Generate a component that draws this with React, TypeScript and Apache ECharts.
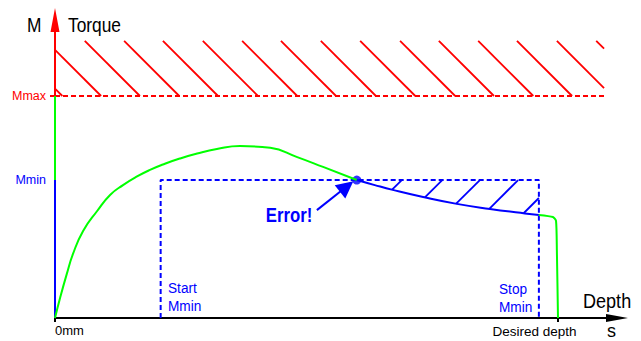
import React, { useEffect, useRef } from 'react';
import * as echarts from 'echarts';

const FONT = "'Liberation Sans', Arial, Helvetica, sans-serif";

const RED = '#ff0000';
const GREEN = '#00ff00';
const BLUE = '#0000ff';
const INK = '#000000';

// Frame of the diagram (canvas size and plot margins)
const WIDTH = 641;
const HEIGHT = 341;
const GRID = { left: 55, right: 24, top: 20, bottom: 23 };

// Axis ranges (depth and torque in relative units)
const DEPTH_MAX = 100;
const TORQUE_MAX = 100;

// Torque limits and depth marks
const M_MAX = 74.5;
const M_MIN = 46.3;
const START_MMIN = 18.8;
const STOP_MMIN = 86.1;
const DESIRED_DEPTH = 89.5;

// Forbidden zone above Mmax
const LIMIT_HATCH_TOP = 93.0;
const LIMIT_HATCH_END = 97.7;
const limitHatchX = [-8.5, -1.6, 5.3, 12.3, 19.2, 26.3, 33.3, 40.2, 47.3, 54.3, 61.4, 68.3, 75.3, 82.2, 89.3, 96.3];

// Torque curve: run-in, fault section below Mmin, and final stop
const torqueRise: [number, number][] = [
  [0, 0], [0.9, 6.7], [2.1, 14.8], [3.2, 21.5], [5.0, 29.2], [7.5, 35.9], [9.8, 41.3],
  [12.1, 44.6], [14.6, 47.5], [16.9, 49.7], [19.2, 51.5], [22.2, 53.5], [25.3, 55.2],
  [28.8, 56.7], [32.9, 57.7], [38.3, 57.1], [43.1, 54.0], [47.7, 50.7], [53.7, 46.3],
];
const torqueFault: [number, number][] = [
  [53.7, 46.3], [56.9, 44.6], [60.1, 43.0], [65.5, 40.6], [71.5, 38.3], [77.4, 36.6],
  [83.6, 35.1], [86.1, 34.6],
];
const torqueTail: [number, number][] = [
  [86.1, 34.6], [88.6, 33.9], [89.15, 32.6], [89.3, 22.8], [89.5, 0],
];
// Hatch of the shortfall area between Mmin and the fault section
const faultHatchX = [61.7, 68.9, 75.6, 82.4, 89.3];

const errorPoint: [number, number] = [53.7, 46.3];
const errorArrow: [number, number][] = [[46.6, 36.2], [51.9, 44.1]];

const xTickValues = [0, DESIRED_DEPTH];
const xTickLabels = ['0mm', 'Desired depth'];
const yTickValues = [M_MIN, M_MAX];
const yTickLabels = ['Mmin', 'Mmax'];

// data units of depth per data unit of torque giving a 45 degree stroke on screen
const PX_PER_X = (WIDTH - GRID.left - GRID.right) / DEPTH_MAX;
const PX_PER_Y = (HEIGHT - GRID.top - GRID.bottom) / TORQUE_MAX;
const SLANT = PX_PER_Y / PX_PER_X;

function limitHatch() {
  const run = (LIMIT_HATCH_TOP - M_MAX) * SLANT;
  const segs: { coords: [number, number][] }[] = [];
  for (const xt of limitHatchX) {
    const t0 = Math.max(0, (0 - xt) / run);
    const t1 = Math.min(1, (LIMIT_HATCH_END - xt) / run);
    if (t0 >= t1) continue;
    const p = (t: number): [number, number] => [xt + run * t, LIMIT_HATCH_TOP - (LIMIT_HATCH_TOP - M_MAX) * t];
    segs.push({ coords: [p(t0), p(t1)] });
  }
  return segs;
}

function faultY(x: number) {
  for (let i = 1; i < torqueFault.length; i++) {
    const [x0, y0] = torqueFault[i - 1];
    const [x1, y1] = torqueFault[i];
    if (x <= x1) return y0 + ((y1 - y0) * (x - x0)) / (x1 - x0);
  }
  return torqueFault[torqueFault.length - 1][1];
}

function faultHatch() {
  return faultHatchX.map((xt) => {
    // start on Mmin, or on the Stop Mmin side when the stroke begins beyond it
    let u0 = 0;
    if (xt > STOP_MMIN) u0 = (xt - STOP_MMIN) / SLANT;
    let lo = u0;
    let hi = u0 + 30;
    for (let k = 0; k < 50; k++) {
      const mid = (lo + hi) / 2;
      const gap = M_MIN - mid - faultY(xt - SLANT * mid);
      if (gap > 0) lo = mid;
      else hi = mid;
    }
    const u1 = (lo + hi) / 2;
    return {
      coords: [
        [xt - SLANT * u0, M_MIN - u0],
        [xt - SLANT * u1, M_MIN - u1],
      ] as [number, number][],
    };
  });
}

// condensed caption text
function caption(
  str: string,
  x: number,
  y: number,
  size: number,
  squeeze: number,
  fill: string,
  extra: Record<string, unknown> = {}
) {
  return {
    type: 'text',
    x,
    y,
    scaleX: squeeze,
    style: {
      text: str,
      fontFamily: FONT,
      fontSize: size,
      fill,
      verticalAlign: 'middle',
      ...extra,
    },
  };
}

export default function App() {
  const ref = useRef<HTMLDivElement>(null);

  useEffect(() => {
    if (!ref.current) return;
    const chart = echarts.init(ref.current, null, { renderer: 'svg' });

    chart.setOption({
      animation: false,
      backgroundColor: '#ffffff',
      grid: { ...GRID, containLabel: false },
      xAxis: {
        type: 'value',
        min: 0,
        max: DEPTH_MAX,
        axisLine: {
          show: true,
          onZero: true,
          lineStyle: { color: INK, width: 2 },
          symbol: ['none', 'triangle'],
          symbolSize: [8, 22],
        },
        axisTick: { show: true, customValues: xTickValues, length: 4, lineStyle: { color: INK, width: 2 } },
        axisLabel: {
          customValues: xTickValues,
          margin: 6,
          color: INK,
          fontSize: 13,
          fontFamily: FONT,
          formatter: (v: number) => (v === 0 ? `{a|${xTickLabels[0]}}` : `{b|${xTickLabels[1]}}`),
          rich: {
            a: { color: INK, fontSize: 13, fontFamily: FONT, padding: [0, 0, 0, 29] },
            b: { color: INK, fontSize: 13.5, fontFamily: FONT, padding: [0, 47, 0, 0] },
          },
        },
        splitLine: { show: false },
      },
      yAxis: {
        type: 'value',
        min: 0,
        max: TORQUE_MAX,
        axisLine: {
          show: true,
          lineStyle: { color: RED, width: 2 },
          symbol: ['none', 'triangle'],
          symbolSize: [9, 24],
        },
        axisTick: { show: true, customValues: [M_MAX], length: 5, lineStyle: { color: RED, width: 2 } },
        axisLabel: {
          customValues: yTickValues,
          margin: 9,
          fontSize: 12.5,
          fontFamily: FONT,
          color: (v: number) => (Math.abs(v - M_MAX) < 1e-6 ? RED : BLUE),
          formatter: (v: number) => (Math.abs(v - M_MAX) < 1e-6 ? yTickLabels[1] : yTickLabels[0]),
        },
        splitLine: { show: false },
      },
      graphic: [
        caption('M', 27, 25, 19.5, 0.89, INK),
        caption('Torque', 68, 25, 19.5, 0.89, INK),
        caption('Depth', 583, 300, 21, 0.86, INK),
        caption('s', 607, 330, 19, 0.95, INK),
        caption('Start\nMmin', 168, 297, 15, 0.91, BLUE, { lineHeight: 18 }),
        caption('Stop\nMmin', 499, 298, 15, 0.91, BLUE, { lineHeight: 18 }),
        caption('Error!', 289, 215, 21, 0.8, BLUE, { fontWeight: 'bold', align: 'center' }),
      ],
      series: [
        {
          name: 'limit hatch',
          type: 'lines',
          coordinateSystem: 'cartesian2d',
          polyline: false,
          lineStyle: { color: RED, width: 1.8, opacity: 1 },
          data: limitHatch(),
        },
        {
          name: 'Mmax',
          type: 'line',
          showSymbol: false,
          clip: false,
          lineStyle: { color: RED, width: 2, type: [5, 3] },
          data: [[0, M_MAX], [LIMIT_HATCH_END, M_MAX]],
        },
        {
          name: 'Mmin window',
          type: 'line',
          showSymbol: false,
          lineStyle: { color: BLUE, width: 2, type: [5, 3] },
          data: [[START_MMIN, 0], [START_MMIN, M_MIN], [STOP_MMIN, M_MIN], [STOP_MMIN, 0]],
        },
        {
          name: 'fault hatch',
          type: 'lines',
          coordinateSystem: 'cartesian2d',
          polyline: false,
          lineStyle: { color: BLUE, width: 1.8, opacity: 1 },
          data: faultHatch(),
        },
        {
          name: 'axis Mmin-Mmax',
          type: 'line',
          showSymbol: false,
          clip: false,
          lineStyle: { color: GREEN, width: 2 },
          data: [[0, M_MIN], [0, M_MAX]],
        },
        {
          name: 'axis 0-Mmin',
          type: 'line',
          showSymbol: false,
          clip: false,
          lineStyle: { color: BLUE, width: 2 },
          data: [[0, 0], [0, M_MIN]],
        },
        {
          name: 'torque run-in',
          type: 'line',
          smooth: 0.5,
          showSymbol: false,
          clip: false,
          lineStyle: { color: GREEN, width: 2 },
          data: torqueRise,
        },
        {
          name: 'torque fault',
          type: 'line',
          smooth: 0.5,
          showSymbol: false,
          lineStyle: { color: BLUE, width: 2 },
          data: torqueFault,
        },
        {
          name: 'torque stop',
          type: 'line',
          smooth: 0.2,
          showSymbol: false,
          clip: false,
          lineStyle: { color: GREEN, width: 2 },
          data: torqueTail,
        },
        {
          name: 'error arrow',
          type: 'lines',
          coordinateSystem: 'cartesian2d',
          polyline: false,
          symbol: ['none', 'triangle'],
          symbolSize: [8, 17],
          lineStyle: { color: BLUE, width: 2, opacity: 1 },
          data: [{ coords: errorArrow }],
        },
        {
          name: 'error',
          type: 'scatter',
          symbol: 'circle',
          symbolSize: 9,
          itemStyle: { color: BLUE },
          data: [errorPoint],
        },
      ],
    });

    return () => chart.dispose();
  }, []);

  return (
    <div
      ref={ref}
      style={{ position: 'fixed', left: 0, top: 0, width: WIDTH, height: HEIGHT, background: '#fff' }}
    />
  );
}
